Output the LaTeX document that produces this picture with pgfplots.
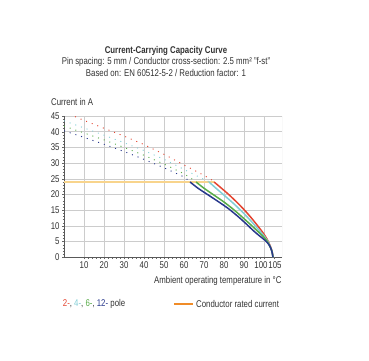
\documentclass[border=0pt]{standalone}
\usepackage{pgfplots}
\pgfplotsset{compat=1.18}
\usepackage{fontspec}
\setmainfont{Liberation Sans}[FakeStretch=0.8]
\definecolor{cred}{RGB}{228,68,48}
\definecolor{ccyan}{RGB}{130,206,214}
\definecolor{cgreen}{RGB}{88,172,72}
\definecolor{cblue}{RGB}{40,56,140}
\definecolor{crated}{RGB}{248,212,140}
\definecolor{corange}{RGB}{240,140,40}
\definecolor{ctext}{RGB}{50,50,50}
\newcommand{\fs}{\fontsize{9.8}{11}\selectfont}
\begin{document}
\begin{tikzpicture}
\useasboundingbox (0,0) rectangle (369pt,360pt);
\fs
\begin{axis}[
  at={(64pt,102.7pt)}, anchor=south west,
  scale only axis, width=218pt, height=141.3pt,
  xmin=0, xmax=109, ymin=0, ymax=45,
  axis lines=left, axis line style={-, draw=black!65, line width=0.5pt},
  xtick={10,20,...,100},
  xticklabels={10,20,30,40,50,60,70,80,90,{\makebox[0pt][c]{\hspace{-6pt}100}}},
  extra x ticks={105}, extra x tick labels={{\makebox[0pt][c]{\hspace{2pt}105}}},
  extra x tick style={grid=none},
  ytick={0,5,...,45},
  minor x tick num=4, minor y tick num=4,
  grid=major, major grid style={draw=gray!40, line width=0.6pt},
  tick align=outside, major tick length=2pt, minor tick length=1.5pt,
  tick style={draw=black!60, line width=0.4pt},
  /pgf/number format/assume math mode=true,
  tick label style={font=\fs, text=ctext},
  xticklabel style={yshift=1pt},
  yticklabel style={xshift=1pt},
  clip=true,
]
\draw[gray!40, line width=0.8pt] (rel axis cs:1,0) -- (rel axis cs:1,1);
% rated current
\addplot[crated, line width=1.8pt] coordinates {(0,24) (75,24)};
% dotted extrapolations
\addplot[cred, line width=0.9pt, dash pattern=on 1pt off 5pt] coordinates {(0,46.3) (10,43.6) (20,41.1) (30,38.6) (40,35.9) (50,32.8) (60,29.4) (70,26.1) (75,24.2)};
\addplot[ccyan, line width=0.9pt, dash pattern=on 1pt off 5pt] coordinates {(0,43.5) (10,41.2) (20,38.9) (30,36.5) (40,34) (50,31.2) (60,28) (70,24.8) (72.5,24.1)};
\addplot[cgreen, line width=0.9pt, dash pattern=on 1pt off 5pt] coordinates {(0,41.8) (10,39.6) (20,37.4) (30,35) (40,32.5) (50,29.7) (60,26.6) (66,24.1)};
\addplot[cblue, line width=0.9pt, dash pattern=on 1pt off 5pt] coordinates {(0,40.3) (10,38.2) (20,36) (30,33.7) (40,31.2) (50,28.5) (60,25.6) (63,24.1)};
% solid curves
\addplot[cred, line width=1.5pt, smooth] coordinates {(75,24) (78,22.4) (82,20.2) (86,17.8) (90,15.2) (94,12.3) (97,9.9) (99.5,7.8) (101.5,5.8) (103,3.8) (104,2) (104.5,0)};
\addplot[ccyan, line width=1.5pt, smooth] coordinates {(72.5,24) (76,22) (80,19.8) (85,17) (90,13.9) (94,11.2) (97,9) (99.5,7.2) (101.5,5.5) (103,3.6) (104,1.9) (104.5,0)};
\addplot[cgreen, line width=1.5pt, smooth] coordinates {(66,24) (70,22) (75,19.8) (80,17.6) (85,15.1) (90,12.3) (94,10) (97,8.2) (99.5,6.7) (101.5,5.2) (103,3.4) (104,1.8) (104.5,0)};
\addplot[cblue, line width=1.5pt, smooth] coordinates {(63,24) (67,22) (72,19.9) (77,17.8) (82,15.6) (87,13) (91,10.7) (95,8.3) (98,6.7) (100.5,5.4) (102.5,4) (103.8,2.2) (104.5,0)};
\end{axis}
% titles
\node[text=ctext, font=\fs\bfseries] at (166pt,309.3pt) {Current-Carrying Capacity Curve};
\node[text=ctext] at (166pt,298pt) {Pin spacing: 5 mm / Conductor cross-section: 2.5 mm² "f-st"};
\node[text=ctext] at (166pt,287.3pt) {Based on: EN 60512-5-2 / Reduction factor: 1};
\node[text=ctext, anchor=west, inner sep=0pt] at (51pt,258.3pt) {Current in A};
\node[text=ctext, anchor=east, inner sep=0pt] at (281.7pt,79pt) {Ambient operating temperature in °C};
% legend
\node[anchor=west, inner sep=0pt] at (62.7pt,56pt) {\textcolor{cred}{2-}\textcolor{ctext}{,} \textcolor{ccyan}{4-}\textcolor{ctext}{,} \textcolor{cgreen}{6-}\textcolor{ctext}{,} \textcolor{cblue}{12-} \textcolor{ctext}{pole}};
\draw[corange, line width=1.3pt] (174pt,56pt) -- (192.7pt,56pt);
\node[text=ctext, anchor=west, inner sep=0pt] at (196pt,56pt) {Conductor rated current};
\end{tikzpicture}
\end{document}
